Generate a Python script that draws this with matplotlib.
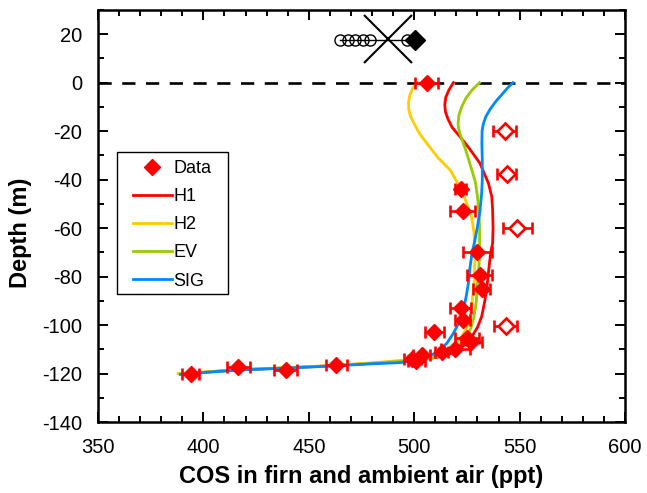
import matplotlib.pyplot as plt
from matplotlib.lines import Line2D
from matplotlib.patches import Rectangle
from matplotlib.ticker import MultipleLocator

plt.rcParams['font.family'] = ['Liberation Sans', 'DejaVu Sans']
plt.rcParams['axes.unicode_minus'] = False

# firn data (filled) with x-uncertainty
data_x = [506, 522, 523, 530, 531, 532, 522, 523, 509.5, 525, 527, 519.5, 513, 503.5, 499, 501, 463, 439, 416.5, 394]
data_y = [0, -44, -53, -70, -79.5, -85, -93, -98, -103, -105.5, -107, -110, -111.3, -112.5, -114, -115, -116.5, -118.5, -117.5, -120.3]
data_err = [5.5, 2.5, 6, 7, 6, 4, 5, 3.5, 4.5, 5.5, 5, 7, 3, 4, 4, 4, 5, 5.5, 5.5, 4]

# rejected samples (open)
out_x = [543, 544, 549, 543.5]
out_y = [-20, -37.5, -60, -100.5]
out_err = [5.5, 4.5, 7, 5.5]

# ambient air
air_x = [465, 468.5, 472, 475.5, 479, 496.6]
air_y = [17.5, 17.5, 17.5, 17.5, 17.5, 17.5]
air_mean_x, air_mean_y = 487.6, 18
surf_x, surf_y = 500.4, 17.5

# model profiles
h1_x = [518.6, 516.5, 515, 514.5, 514.8, 516, 518, 521.7, 526, 531.2, 535.2, 536.8, 537.2, 537.4, 537.2, 536.3, 535.5,
        534.7, 533.5, 532, 530, 527.3, 523.5, 519.4, 514, 508.2, 500, 493.3, 480, 458.5, 436, 415.8, 401.5, 389]
h1_y = [0, -3, -6, -9, -12, -15, -18.5, -22.3, -27, -33.3, -41.5, -47, -52.5, -60, -66.3, -70, -76,
        -82.7, -90, -96.5, -101, -104.8, -108.5, -111, -112.8, -113.7, -114.6, -115, -115.8, -116.9, -117.8, -118.5, -119.4, -120.2]

h2_x = [501.5, 499.5, 498, 497.3, 497.4, 498.3, 500, 502.5, 505.9, 511.5, 517, 522.5, 524.9, 527.2, 528.4, 528.8, 528.4,
        527.5, 526.5, 525, 522.5, 519.5, 515.4, 510.5, 505.9, 499, 493.3, 480, 458.5, 436, 415.8, 401.5, 388]
h2_y = [0, -2, -5, -8, -11, -14, -17, -21, -25, -31.2, -36, -44.3, -49.8, -55.3, -62, -73, -82.7,
        -90, -96.5, -101, -104.8, -108, -111, -112.6, -113.7, -114.2, -114.6, -115.6, -116.8, -117.7, -118.4, -119.3, -120]

ev_x = [531, 527.5, 524.5, 522.5, 521.2, 520.8, 521.3, 522.5, 524.5, 527.3, 529, 530, 530.7, 531, 531, 530.9, 530.5,
        530, 529.5, 528.4, 527, 524.9, 521.5, 517, 512, 507.5, 500, 493.3, 480, 458.5, 436, 415.8, 401.5]
ev_y = [0, -3, -6.5, -10, -13.5, -17, -20, -23, -28, -36, -41, -47, -53, -59.4, -66, -73, -78,
        -82.7, -90, -96.5, -101, -104.8, -108.5, -111, -112.7, -113.7, -114.5, -115, -115.8, -116.9, -117.8, -118.5, -119.4]

sig_x = [546.9, 544.5, 541.5, 538.5, 536, 534, 532.8, 532.2, 532.1, 532.3, 532.3, 532, 531.2, 530, 528.8, 527.5, 526.5, 525.7,
         524.7, 523.3, 521.5, 518.6, 515.5, 512.2, 508, 502.8, 493.3, 480, 458.5, 436, 415.8, 401.5, 389]
sig_y = [0, -2, -5, -8, -11, -14, -17, -20, -25, -32, -40, -45.6, -53, -59.4, -65, -70, -76, -82.7,
         -88, -93.8, -98.5, -103.4, -107.5, -110.3, -112.5, -114.4, -115.5, -116, -117, -117.9, -118.6, -119.5, -120.3]

fig = plt.figure(figsize=(6.47, 4.93), dpi=100)
ax = fig.add_axes([0.1515, 0.144, 0.8145, 0.836])

ax.axhline(0, color='black', lw=1.9, dashes=(5, 4), zorder=1)

lw = 2.0
l1, = ax.plot(h1_x, h1_y, color='#FF0000', lw=lw, zorder=2)
l2, = ax.plot(h2_x, h2_y, color='#FFCC00', lw=lw, zorder=2)
l3, = ax.plot(ev_x, ev_y, color='#99CC00', lw=lw, zorder=2)
l4, = ax.plot(sig_x, sig_y, color='#0088FF', lw=lw, zorder=2)

ax.errorbar(data_x, data_y, xerr=data_err, fmt='D', color='#FF0000', ms=8, capsize=4.5,
            elinewidth=1.9, capthick=1.9, zorder=4)
ax.errorbar(out_x, out_y, xerr=out_err, fmt='D', color='#FF0000', mfc='white', mec='#FF0000',
            mew=1.9, ms=8, capsize=4.5, elinewidth=1.9, capthick=1.9, zorder=4)

ax.plot(air_x, air_y, '-o', color='black', mfc='none', ms=8, lw=1, zorder=3)
ax.plot([air_mean_x], [air_mean_y], marker='x', color='black', ms=35, mew=1.5, zorder=3)
ax.plot([surf_x], [surf_y], marker='D', color='black', ms=10, zorder=3)

ax.set_xlim(350, 600)
ax.set_ylim(-140, 30)
ax.xaxis.set_major_locator(MultipleLocator(50))
ax.xaxis.set_minor_locator(MultipleLocator(10))
ax.yaxis.set_major_locator(MultipleLocator(20))
ax.yaxis.set_minor_locator(MultipleLocator(10))
ax.tick_params(which='both', direction='in', top=True, right=True, width=1.4, labelsize=14.5, pad=11.5)
ax.tick_params(which='major', length=7)
ax.tick_params(which='minor', length=4)
for s in ax.spines.values():
    s.set_linewidth(1.8)

ax.set_xlabel('COS in firn and ambient air (ppt)', fontsize=17, fontweight='bold')
ax.set_ylabel('Depth (m)', fontsize=17, fontweight='bold')
ax.xaxis.set_label_coords(0.5, -0.105)
ax.yaxis.set_label_coords(-0.125, 0.46)

# legend: entries without frame, box drawn separately
data_handle = Line2D([], [], marker='D', color='#FF0000', ls='none', ms=8)
leg = ax.legend([data_handle, l1, l2, l3, l4], ['Data', 'H1', 'H2', 'EV', 'SIG'],
                loc='upper left', bbox_to_anchor=(0.0664, 0.636), borderaxespad=0,
                borderpad=0, frameon=False, fontsize=13, labelspacing=0.62,
                handlelength=2.15, handletextpad=0.1)
leg.set_zorder(6)
ax.add_patch(Rectangle((0.036, 0.3107), 0.2107, 0.3446, transform=ax.transAxes,
                       facecolor='white', edgecolor='black', lw=1.0, zorder=5))

fig.savefig('out.png', dpi=100)
